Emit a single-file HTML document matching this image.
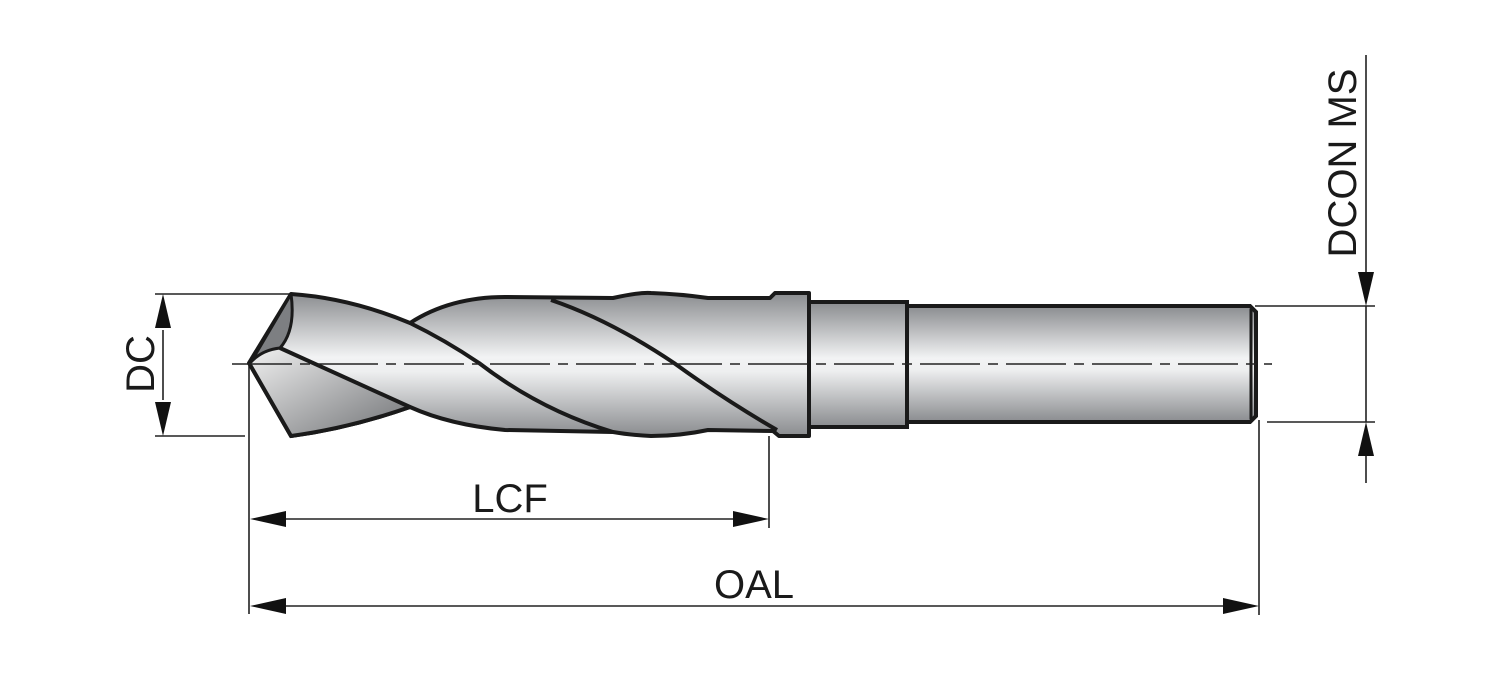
<!DOCTYPE html>
<html><head><meta charset="utf-8"><style>
html,body{margin:0;padding:0;background:#fff;}
svg{display:block;}
text{font-family:"Liberation Sans",Arial,sans-serif;fill:#1a1a1a;}
</style></head><body>
<svg width="1500" height="673" viewBox="0 0 1500 673" xmlns="http://www.w3.org/2000/svg">
<defs>
<linearGradient id="g" x1="0" y1="0" x2="0" y2="1">
<stop offset="0" stop-color="#8a8c8f"/>
<stop offset="0.45" stop-color="#f2f3f4"/>
<stop offset="0.55" stop-color="#eeeff0"/>
<stop offset="1" stop-color="#8a8c8f"/>
</linearGradient>
<linearGradient id="g2" x1="0" y1="0" x2="1" y2="1">
<stop offset="0" stop-color="#f0f0f0"/>
<stop offset="1" stop-color="#6f7174"/>
</linearGradient>
</defs>
<g stroke="#222" stroke-width="1.6" fill="none">
<line x1="155" y1="294" x2="290" y2="294"/>
<line x1="155" y1="436" x2="245" y2="436"/>
<line x1="163" y1="330" x2="163" y2="400"/>
<line x1="249" y1="366" x2="249" y2="614"/>
<line x1="769" y1="436" x2="769" y2="528"/>
<line x1="1259" y1="420" x2="1259" y2="615"/>
<line x1="280" y1="519" x2="740" y2="519"/>
<line x1="280" y1="606" x2="1230" y2="606"/>
<line x1="1366" y1="55" x2="1366" y2="275"/>
<line x1="1255" y1="306" x2="1375" y2="306"/>
<line x1="1267" y1="422" x2="1375" y2="422"/>
<line x1="1366" y1="306" x2="1366" y2="422"/>
<line x1="1366" y1="455" x2="1366" y2="483"/>
</g>
<g fill="#111">
<polygon points="163,294 155,328 171,328"/>
<polygon points="163,436 155,402 171,402"/>
<polygon points="250,519 286,511 286,527"/>
<polygon points="769,519 733,511 733,527"/>
<polygon points="250,606 286,598 286,614"/>
<polygon points="1259,606 1223,598 1223,614"/>
<polygon points="1366,306 1358,272 1374,272"/>
<polygon points="1366,422 1358,456 1374,456"/>
</g>
<path d="M906,306 L1250,306 L1256,312 L1256,416 L1250,422 L906,422 Z" fill="url(#g)" stroke="#1a1a1a" stroke-width="4"/>
<line x1="1251" y1="309" x2="1251" y2="419" stroke="#1a1a1a" stroke-width="3"/>
<rect x="808" y="302" width="99" height="125" fill="url(#g)" stroke="#1a1a1a" stroke-width="4"/>
<path d="M249,363 L291,294 Q350,298 410,323 Q450,297 505,297 L613,298 Q640,292 651,293 Q680,294 708,298 L770,298 L775,293 L809,293 L809,436 L779,436 L773,431 L708,430 Q680,436 651,436 Q630,435 613,432 L505,430 Q450,425 410,407 Q350,428 291,436 Z" fill="url(#g)" stroke="#1a1a1a" stroke-width="4" stroke-linejoin="round"/>
<path d="M251,365 Q260,346 280,350 L410,407 Q350,428 291,436 Z" fill="url(#g2)" stroke="none"/>
<path d="M291,294 Q296,330 280,348 Q262,350 251,362 Z" fill="#7d7f82" stroke="#1a1a1a" stroke-width="3" stroke-linejoin="round"/>
<path d="M249,363 L291,436 Q350,428 410,407" fill="none" stroke="#1a1a1a" stroke-width="4"/>
<path d="M280,348 L410,407" fill="none" stroke="#1a1a1a" stroke-width="4"/>
<path d="M410,323 Q445,340 479,363 Q540,410 613,432" fill="none" stroke="#1a1a1a" stroke-width="4"/>
<path d="M551,300 Q610,320 674,363 Q725,400 777,430" fill="none" stroke="#1a1a1a" stroke-width="4"/>
<line x1="232" y1="364" x2="1272" y2="364" stroke="#222" stroke-width="1.6" stroke-dasharray="60,8,10,8"/>
<text x="510" y="512" font-size="40" text-anchor="middle">LCF</text>
<text x="754" y="598" font-size="40" text-anchor="middle">OAL</text>
<text transform="translate(154,364) rotate(-90)" font-size="40" text-anchor="middle">DC</text>
<text transform="translate(1356,163) rotate(-90)" font-size="40" text-anchor="middle">DCON MS</text>
</svg>
</body></html>
